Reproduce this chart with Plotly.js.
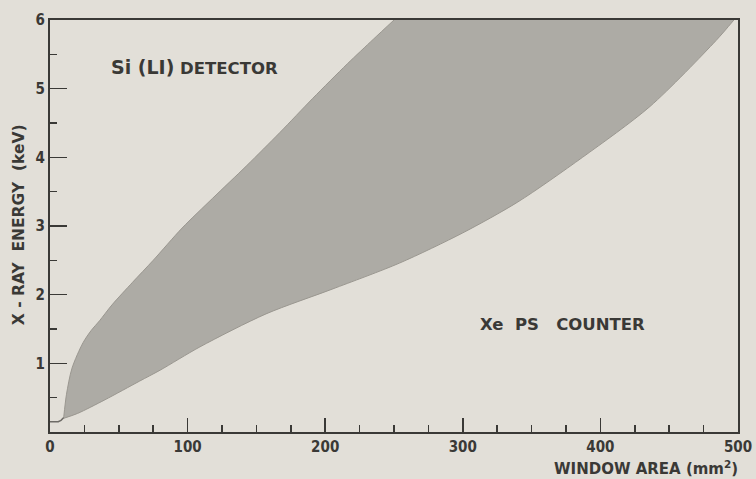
<!DOCTYPE html>
<html>
<head>
<meta charset="utf-8">
<script src="https://cdn.plot.ly/plotly-3.0.1.min.js"></script>
<style>
html,body{margin:0;padding:0;background:#e2dfd8;}
#chart{width:756px;height:479px;}
</style>
</head>
<body>
<div id="chart"></div>
<script>
// Upper (Si(Li) side) boundary of the shaded band: window area (mm^2) vs X-ray energy (keV)
const upperX = [10, 12, 16, 24, 30, 36, 45, 60, 75, 96, 118, 143, 167, 191, 216, 235, 250];
const upperY = [0.22, 0.55, 0.93, 1.30, 1.48, 1.62, 1.85, 2.18, 2.50, 2.97, 3.40, 3.88, 4.36, 4.86, 5.36, 5.72, 6.0];
// Lower (Xe PS counter side) boundary
const lowerX = [10, 20, 40, 65, 80, 109, 157, 205, 254, 300, 340, 387, 436, 484, 497];
const lowerY = [0.20, 0.27, 0.47, 0.74, 0.90, 1.24, 1.72, 2.08, 2.46, 2.90, 3.35, 4.00, 4.74, 5.70, 6.0];
// Small low-area foot near the origin
const footX = [0, 6, 8, 10];
const footY = [0.15, 0.15, 0.17, 0.21];

const xTickVals = [0, 100, 200, 300, 400, 500];
const xTickText = ['0', '100', '200', '300', '400', '500'];
const yTickVals = [1, 2, 3, 4, 5, 6];
const yTickText = ['1', '2', '3', '4', '5', '6'];

const ink = '#3a3936';
const fontW = 'DejaVu Sans, Verdana, sans-serif';
const fontC = 'DejaVu Sans Condensed, Liberation Sans Narrow, sans-serif';

const traces = [
  {
    x: lowerX, y: lowerY, type: 'scatter', mode: 'lines',
    line: {color: '#9a9790', width: 1, shape: 'spline', smoothing: 0.8},
    hoverinfo: 'skip', showlegend: false
  },
  {
    x: upperX, y: upperY, type: 'scatter', mode: 'lines',
    fill: 'tonexty', fillcolor: '#adaba5',
    line: {color: '#9a9790', width: 1, shape: 'spline', smoothing: 0.8},
    hoverinfo: 'skip', showlegend: false
  },
  {
    x: footX, y: footY, type: 'scatter', mode: 'lines',
    line: {color: '#6d6b66', width: 1.5},
    hoverinfo: 'skip', showlegend: false
  }
];

const layout = {
  width: 756, height: 479,
  paper_bgcolor: '#e2dfd8', plot_bgcolor: '#e2dfd8',
  margin: {l: 50, r: 18, t: 20, b: 47},
  showlegend: false,
  font: {family: fontC, color: ink, size: 15},
  xaxis: {
    range: [0, 500], tickvals: xTickVals, ticktext: xTickText,
    ticks: 'inside', ticklen: 14, tickwidth: 1.5, tickcolor: ink,
    showline: true, linewidth: 2, linecolor: ink, mirror: true,
    showgrid: false, zeroline: false,
    tickfont: {family: fontC, size: 15, color: ink, weight: 'bold'},
    minor: {dtick: 25, tick0: 0, ticks: 'inside', ticklen: 7, tickwidth: 1.5, tickcolor: ink, showgrid: false}
  },
  yaxis: {
    range: [0, 6], tickvals: yTickVals, ticktext: yTickText,
    ticks: 'inside', ticklen: 17, tickwidth: 1.5, tickcolor: ink,
    showline: true, linewidth: 2, linecolor: ink, mirror: true,
    showgrid: false, zeroline: false,
    tickfont: {family: fontC, size: 15, color: ink, weight: 'bold'},
    minor: {dtick: 0.5, tick0: 0, ticks: 'inside', ticklen: 7, tickwidth: 1.5, tickcolor: ink, showgrid: false}
  },
  annotations: [
    {x: -0.045, y: 0.502, xref: 'paper', yref: 'paper', xanchor: 'center', yanchor: 'middle', showarrow: false,
     textangle: -90, text: 'X - RAY  ENERGY  (keV)',
     font: {family: fontW, size: 15.5, color: ink, weight: 'bold'}},
    {x: 1.003, y: -0.087, xref: 'paper', yref: 'paper', xanchor: 'right', yanchor: 'middle', showarrow: false,
     text: 'WINDOW AREA (mm<sup>2</sup>)', font: {family: fontW, size: 15, color: ink, weight: 'bold'}},
    {x: 43, y: 5.32, xref: 'x', yref: 'y', xanchor: 'left', yanchor: 'middle', showarrow: false,
     text: '<span style="font-size:19px">Si (LI)</span> DETECTOR',
     font: {family: fontW, size: 16.5, color: ink, weight: 'bold'}},
    {x: 311, y: 1.56, xref: 'x', yref: 'y', xanchor: 'left', yanchor: 'middle', showarrow: false,
     text: 'Xe&nbsp;&nbsp;PS&nbsp;&nbsp;&nbsp;COUNTER',
     font: {family: fontW, size: 16.5, color: ink, weight: 'bold'}}
  ]
};

Plotly.newPlot('chart', traces, layout, {displayModeBar: false, staticPlot: true});
</script>
</body>
</html>
